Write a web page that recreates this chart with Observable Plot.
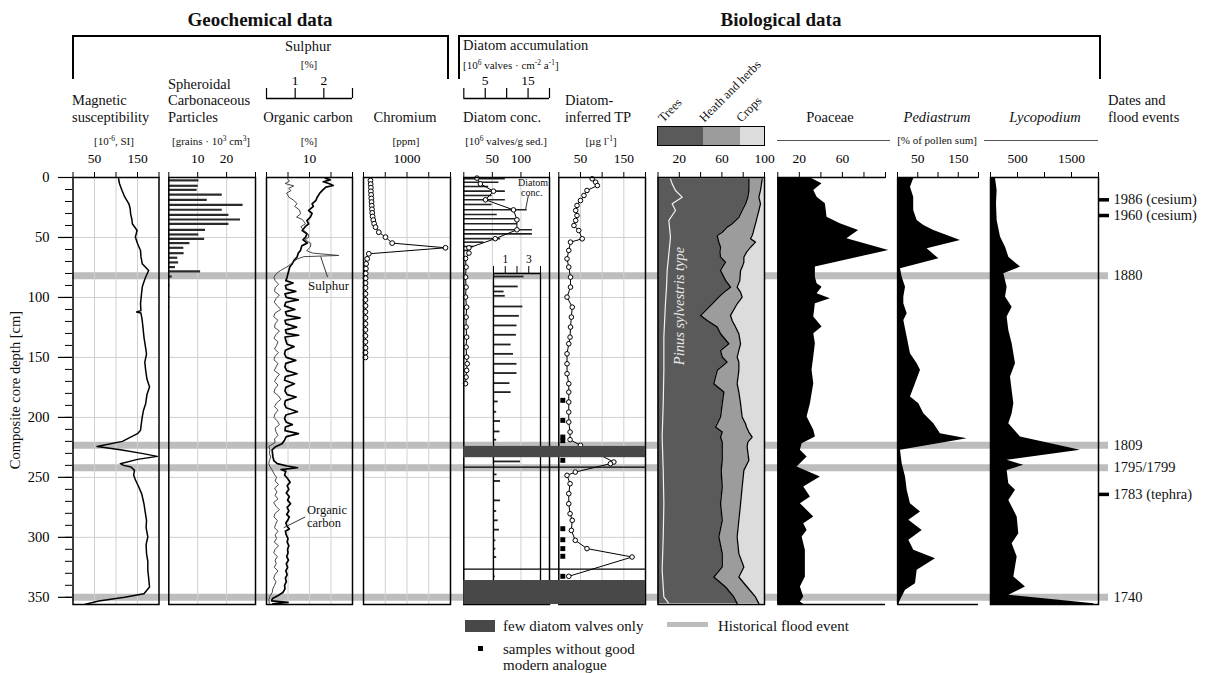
<!DOCTYPE html>
<html><head><meta charset="utf-8"><title>Geochemical and biological data</title>
<script src="https://cdn.jsdelivr.net/npm/d3@7"></script>
<script src="https://cdn.jsdelivr.net/npm/@observablehq/plot@0.6"></script>
<style>
html,body{margin:0;padding:0;background:#fff;overflow:hidden;}
#root{position:relative;width:1213px;height:673px;font-family:"Liberation Serif","Times New Roman",serif;color:#111;}
#root svg{position:absolute;left:0;top:0;}
#root svg text{font-family:"Liberation Serif","Times New Roman",serif !important;}
.t{position:absolute;white-space:nowrap;line-height:1;}
.t sup{font-size:0.68em;vertical-align:0.45em;line-height:0;}
.box{position:absolute;box-sizing:border-box;}
</style></head><body><div id="root"></div>
<script>
// ---------------- DATA ----------------
// Depth axis
const majorTicks = [0, 50, 100, 150, 200, 250, 300, 350];
const minorTicks = [0,10,20,30,40,50,60,70,80,90,100,110,120,130,140,150,160,170,180,190,200,210,220,230,240,250,260,270,280,290,300,310,320,330,340,350];

// Dates and flood events
const floodDepth = [82, 223.3, 242, 350];
const dateTickDepth = [18.6, 31.7, 264.2];
const dateLabels = ["1986 (cesium)", "1960 (cesium)", "1880", "1809", "1795/1799", "1783 (tephra)", "1740"];
const dateLabelDepth = [18.6, 31.7, 82, 223.3, 242, 264.2, 350];

// Magnetic susceptibility [10^-6 SI]
const magTicks = [0, 50, 100, 150, 200], magTickLabels = [50, 150];
const magDepth = [1,5,10.8,16,21.9,26,30.3,35,38.6,44.2,49.7,55,60.8,66,71.9,77.5,83,88,91.4,98,105.3,111,112.2,113,119.2,126,133,140,147,154,160.8,168,174.7,181,188.6,194,199.7,205,210.8,213.6,216.4,220,224.2,227,230,232.5,235,238.6,240,241.4,244.2,248,252,258,264,272,279,285.8,292,299.7,306,313.6,320,327.5,334,341.4,347,350,353,355.8];
const magValue = [106,108,114,120,130,133,134,137,138,149,145,150,157,158,161,176,169,164,161,159,157,158,148,158,161,163,165,168,171,167,169,172,178,172,169,164,161,159,157,150,134,115,56,110,160,196,150,110,118,135,143,141,145,153,160,165,168,171,170,174,170,171,174,174,176,178,165,120,60,29];

// Spheroidal carbonaceous particles [grains 10^3 cm^3]
const scpTicks = [0, 10, 20, 30], scpTickLabels = [10, 20];
const scpDepth = [2.4,6.9,10.3,14.2,18.6,22.8,26.9,31.1,35,38.6,43.6,47.5,51.1,54.7,58.6,63.1,66.9,70.8,74.7,78.3,82.5,90,99.7,108];
const scpValue = [10.4,10.2,9.8,18.5,13.3,25.7,18.5,20.8,24.8,20.8,12.7,10.4,12.4,7.3,5.2,5.3,3.1,3.4,2.3,11,1.2,0.4,0.4,0.3];

// Organic carbon [%]
const ocTicks = [0, 5, 10, 15, 20], ocTickLabels = [10];
const ocDepth = [0.5,2,3.5,5,6.7,8,10.8,13,16.4,19,21.9,24,27.5,30,33.1,36,38.6,41,44.2,47,49.7,52,54.7,57,60.8,63,66.4,69,71.9,74.7,77.5,80,83.1,86,88,90,93,95,97,100,102,104,107,110,112,115,117,119,122,124.7,127,130,131.5,133,136,139,141,144,147,150,152.5,155,158,161,163.6,166,169,172,175,178,181,183,186,189,192,195.3,198,201,204,206,208,211,213.6,216,219,222,224.7,227,230,233,236,238.6,240.5,242,243.5,245,248,251,254,257,260,263,266,269,272,275,278,281,283,286,288,291,293,295,298,301,304,307,310,313,316,319,322,325,328,331,334,337,340,343,346,349,351,353,354.3,355.5];
const ocValue = [13.7,14.8,13.2,14.5,15.5,13.8,13,12.4,11.8,11.5,10.6,10.9,9.8,10.6,10.2,9.4,9.8,9,8.3,9.4,9.1,8.5,9.5,8.2,7.9,7.4,7.1,6.4,6,5.4,5.2,5.0,4.8,4.5,6.2,4.4,4.6,6.8,4.3,4.6,7.4,4.5,4.2,6.6,4.4,4.7,7.8,4.3,4.5,7.0,4.4,4.6,7.5,4.3,4.5,4.8,6.4,4.4,4.2,4.6,6.8,4.5,4.3,4.7,7.1,4.4,4.2,6.5,4.5,4.3,4.8,6.9,4.4,4.2,4.6,7.2,4.5,4.2,4.6,6.0,4.4,4.3,7.4,4.6,4.2,3.6,2.0,1.3,1.4,1.5,1.7,2.5,4.8,7.2,3.4,4.5,4.2,4.9,5.5,4.8,5.2,4.6,5.3,4.9,5.6,4.8,5.2,4.7,5.3,4.9,4.5,4.8,5.3,4.4,4.6,5.0,4.8,5.2,4.9,5.0,4.7,5.1,4.6,4.9,4.5,4.8,4.4,4.6,4.2,4.3,3.8,2.5,1.4,1.2,5,1.5];

// Sulphur [%]
const sTicks = [0, 1, 2, 3], sTickLabels = [1, 2];
const sDepth = [0.5,3,5,7,9,11,13,16.4,19,21.9,24,27,30.3,33,35,38.6,41,44.2,47,49.7,52,55,58,61,63,65,66,68,71,74,77.5,80,83.1,86,89,92,95,98,101,104,107,110,113,116,119,122,125,128,131,134,137,140,143,146,149,152,155,158,161,164,167,170,173,176,179,182,185,188,191,194,197,200,203,206,209,212,215,218,221,224.2,227,230,233,236,238.6,241,244,247,250,253,256,259,262,265,268,271,274,277,280,283,286,289,292,295,298,301,304,307,310,313,316,319,322,325,328,331,334,337,340,343,346,349,352,355];
const sValue = [0.72,0.8,0.65,0.95,0.78,0.85,0.7,0.78,0.95,1.07,0.98,1.15,1.19,1.05,1.25,1.36,1.2,1.3,1.45,1.48,1.35,1.55,1.53,1.4,1.6,2.52,1.3,1.07,0.9,0.75,0.49,0.35,0.26,0.3,0.42,0.3,0.28,0.45,0.33,0.27,0.38,0.5,0.3,0.25,0.4,0.3,0.28,0.45,0.33,0.26,0.4,0.35,0.28,0.42,0.3,0.26,0.4,0.33,0.27,0.45,0.35,0.28,0.4,0.3,0.26,0.42,0.5,0.35,0.28,0.4,0.3,0.26,0.38,0.45,0.3,0.33,0.4,0.28,0.3,0.08,0.12,0.1,0.15,0.1,0.08,0.12,0.2,0.26,0.35,0.3,0.42,0.28,0.36,0.3,0.4,0.25,0.33,0.45,0.3,0.26,0.38,0.32,0.28,0.4,0.3,0.35,0.27,0.42,0.3,0.25,0.38,0.3,0.34,0.27,0.4,0.3,0.25,0.33,0.28,0.22,0.2,0.12,0.08,0.1];

// Chromium [ppm]
const crTicks = [0, 500, 1000, 1500, 2000], crTickLabels = [1000];
const crDepth = [2.5,5.5,8.5,11.5,14.5,17.5,20.5,23.5,26.5,29.5,32.5,35.5,38.5,41.4,45.6,49.7,54.7,58.6,63.6,67.8,72,76,80,84,88,92,97,102,107,112,117,122,127,132,137,142,146,150];
const crValue = [160,165,170,170,175,180,185,190,195,200,210,225,245,276,352,506,659,1885,122,84,60,55,50,48,47,46,46,45,46,45,45,46,45,44,45,46,45,45];

// Diatom concentration [10^6 valves/g sed.]
const dcTicks = [0, 50, 100, 150], dcTickLabels = [50, 100];
const dcDepth = [0.5,5.3,11.4,18.6,27,35.3,43.6,51,58.6,63,67.5,74.7,83.1,91.4,99.7,108.1,116.4,124.7,133.1,141.4,149.7,155.3,160.8,166.4,171.9];
const dcValue = [23,29,52,38,87,93,93,55,9,9,3,4,3,4,3,5,4,4,5,4,5,6,5,4,3];

// Diatom accumulation [10^6 valves cm^-2 a^-1], scale 0-20 (upper part)
const daTicks = [0, 5, 10, 15, 20], daTickLabels = [5, 15];
const daDepth = [1,3.9,7.5,11.4,15,18.6,22.5,26.9,30.8,34.4,38.6,43.6,47,51.1,53.9,57.5,60.8];
const daValue = [9.7,8.2,5.8,9.7,6.6,9.7,6.6,14.8,7.8,12.5,12.5,16,16,8.6,4.7,2.3,1.1];

// Diatom accumulation, enlarged scale 0-4 (lower part)
const iaTicks = [0, 1, 2, 3, 4], iaTickLabels = [1, 3];
const iaDepth = [82.5,90.8,95,98.6,107.5,115.3,123.3,131.1,139.2,147,155.3,163,171.4,178.9,186.7,195.3,203,211.7,218.6,236.7,247.5,253,269.2,278,285.8,293.6,302.5,309.4,316.4,332.5];
const iaValue = [2.6,2.1,0.9,1.0,2.5,2.2,2.0,1.95,1.5,1.7,2.0,2.0,1.4,1.5,0.4,0.27,0.6,0.55,0.27,2.3,0.3,0.6,0.6,0.27,0.4,0.5,0.2,0.2,0.27,0.15];

// Few diatom valves only (depth ranges) and section lines
const fewTop = [224.2, 336], fewBottom = [233.6, 356];
const sectionLines = [241.5, 326.5];

// Diatom-inferred TP [ug/l]
const tpTicks = [0, 50, 100, 150, 200], tpTickLabels = [50, 150];
const tpDepth = [1.1,3.9,6.7,10.8,15,19.2,23.3,27.5,31.7,35.8,40,44.2,51.1,53.9,60.8,67.8,74.7,83.1,91.4,99.7,108.1,116.4,124.7,133.1,138.6,147,155.3,163.6,171.9,178.9,187.2,195.6,203.9,212.2,218.6,223.3,237.2,238.6,245.6,248.3,255.3,263.6,272,280.3,285.8,294.2,302.5,309.4,316.4,332.5];
const tpValue = [77,85,89,65,58,50,42,39,42,39,35,46,54,27,23,19,23,27,27,19,31,29,27,26,23,19,19,19,23,23,23,23,23,26,26,50,127,119,38,19,26,23,23,26,31,29,38,65,169,23];
const noAnalogueDepth = [185.8, 202.5, 216.4, 219.4, 235.8, 292.8, 302, 309.4, 315.8, 332.5];

// Pollen groups [% of pollen sum]
const pgTicks = [0, 20, 40, 60, 80, 100], pgTickLabels = [20, 60, 100];
const pollenDepth = [1.1,6.7,10.8,16.4,21.9,27.5,33.1,38.6,41.4,45.6,48.3,51.1,53.9,58.1,62.2,66.4,70.6,74.7,77.5,85.8,91.4,95.6,99.7,105.3,115,119.2,124.7,130.3,138.6,144.2,149.7,153.9,160.8,171.9,178.9,188.6,199.7,205.3,208,212.2,216.4,220.6,224.7,235.8,244.2,258,272,285.8,299.7,313.6,324.7,333.1,341.4,349.7,355.3];
const trees = [85.3,85.3,85.3,84.3,82.2,79,75.9,69.6,64.9,60.3,55.6,56.2,57.1,58.7,58.1,58.7,63.4,60.3,58.7,63.4,68.1,61.8,57.1,50.9,39.9,46.2,55.6,58.7,66.5,58.7,60.3,64.9,55.6,52.4,61.8,60.3,58.7,55.6,54,60.3,58.7,60.3,60.3,60.3,59.3,60.3,58.7,60.3,57.1,60.3,60.3,52.4,63.4,71.2,74.3];
const heath = [12.5,11.6,10.9,10.4,14,15.7,17.2,21.9,25.7,29.1,32.8,30.7,34.4,28.2,25,21.9,17.2,18.7,18.8,13.4,6.2,15.7,21.9,23.4,28.2,23.4,17.2,17.2,11,17.2,14,11,20.3,21.9,14.1,17.2,20.3,26.6,29.1,25,29.7,24,23.4,25,21.3,18.7,18.8,15.6,17.2,15.6,20.3,23.5,20.3,20.3,20.4];
const crops = [2.2,3.1,3.8,5.3,3.8,5.3,6.9,8.5,9.4,10.6,11.6,13.1,8.5,13.1,16.9,19.4,19.4,21,22.5,23.2,25.7,22.5,21,25.7,31.9,30.4,27.2,24.1,22.5,24.1,25.7,24.1,24.1,25.7,24.1,22.5,21,17.8,16.9,14.7,11.6,15.7,16.3,14.7,19.4,21,22.5,24.1,25.7,24.1,19.4,24.1,16.3,8.5,5.3];
const pinusDepth = [1.1,5.3,10.8,16.4,21.9,27.5,35.8,49.7,63.6,77.5,91.4,105.3,133.1,160.8,188.6,216.4,244.2,272,299.7,327.5,349.7,355.3];
const pinusValue = [11.7,13.3,16.4,22.7,13.3,16.4,10.2,11.7,10.2,8.6,8,7,5.5,5.5,4.9,3.9,4.9,5.5,4.9,3.9,5.5,10.2];

// Poaceae [%]
const poTicks = [0, 20, 40, 60, 80, 100], poTickLabels = [20, 60];
const poDepth = [0,1.1,5.3,10.8,16.4,21.9,33.1,38.6,44.2,51.1,60.8,74.7,83.1,88.6,91.4,97,101.1,105.3,116.4,124.7,130.3,138.6,149.7,160.8,171.9,188.6,199.7,210.8,216.4,221.9,227.5,233.1,241.4,249.7,258,266.4,272,283,288.6,294.2,299.7,310.8,321.9,333.1,341.4,349.7,353.9,356];
const poValue = [32,31.8,41,33.4,36.5,44.2,45.7,58,75,64.2,103,34.9,34.9,36.5,41.1,36.5,48.8,34.9,33.4,41.1,33.4,34.9,33.4,31.8,33.4,30.3,27.2,33.4,34.9,22.6,21,27.2,17.9,39.5,24.1,30.3,21,33.4,24.1,27.2,22.6,25.6,25.6,25.6,21,24.1,21,24.1];

// Pediastrum [%]
const peTicks = [0, 50, 100, 150, 200], peTickLabels = [50, 150];
const peDepth = [0,1.1,8.1,16.4,27.5,35.8,40,44.2,52.5,59.4,67.8,76.1,83.1,91.4,99.7,105.3,113.6,119.2,133.1,147,155.3,160.8,171.9,183,188.6,197,205.3,213.6,217.8,227.5,238.6,249.7,260.8,272,278.9,285.8,294.2,302.5,310.8,317.8,327.5,338.6,344.2,352.5,356];
const peValue = [40,40,32,40,40,48.6,65,89.7,155.5,73.2,102,7.4,11.5,19.8,15.6,15.6,23.9,15.6,23.9,32,48.6,56.8,44.4,32,52.7,65,89.7,106,172,7.4,11.5,19.8,23.9,32,56.8,28,61,28,40.3,93.8,48.6,44.4,19.8,7.4,3.3];

// Lycopodium [%]
const lyTicks = [0, 500, 1000, 1500, 2000], lyTickLabels = [500, 1500];
const lyDepth = [0,1.1,10.8,21.9,35.8,49.7,58.1,66.4,74.7,80.3,91.4,99.7,108.1,116.4,127.5,138.6,155.3,166.4,177.5,188.6,197,205.3,216.4,227.5,235.8,240,244.2,255.3,260.8,269.2,283,297,305.3,316.4,324.7,333.1,341.4,348.3,355.3,356];
const lyValue = [93,93,123,111,123,185,278,339,555,247,308,278,401,308,339,401,463,370,401,432,401,339,555,1666,308,617,308,339,463,339,494,524,401,494,463,432,648,339,1913,1913];

// ---------------- DRAWING ----------------
const W = 1213, H = 673, TOP = 177, BOTTOM = 604, DMAX = 356;
const FONT = "Liberation Serif, Times New Roman, serif";
const GRID = "#d0d0d0";
const hGrid = [50, 100, 150, 200, 250, 300];
const root = document.getElementById("root");

const fmt = labels => d => labels.includes(d) ? String(d) : "";
const style = size => ({background: "transparent", fontFamily: FONT, fontSize: size + "px", color: "#000", overflow: "visible"});
const rows = (depths, values) => depths.map((d, i) => ({depth: d, value: values[i]}));
const topAxis = (ticks, labels, size = 6, pad = 9) => ({axis: "top", ticks, tickFormat: fmt(labels), tickSize: size, tickPadding: pad});
const grid = xs => [Plot.ruleX(xs, {stroke: GRID}), Plot.ruleY(hGrid, {stroke: GRID})];
const frame = () => Plot.frame({strokeWidth: 1.5});

function layer({L, R, domain = [0, 1], marks, top = TOP, ydomain = [0, DMAX], xaxis = null, yaxis = null, size = 13.5}) {
  const svg = Plot.plot({
    width: W, height: H,
    marginLeft: L, marginRight: W - R, marginTop: top, marginBottom: H - BOTTOM,
    style: style(size),
    x: Object.assign({domain, label: null}, xaxis || {axis: null}),
    y: Object.assign({domain: ydomain, reverse: true, label: null}, yaxis || {axis: null}),
    marks
  });
  root.appendChild(svg);
  return svg;
}
function ruler({L, R, domain, ticks, labels, yLine, tick = 10, size = 13.5}) {
  root.appendChild(Plot.plot({
    width: W, height: H, marginLeft: L, marginRight: W - R, marginTop: yLine - tick, marginBottom: H - yLine,
    style: style(size),
    x: {domain, axis: "top", ticks, tickFormat: fmt(labels), tickSize: 0, tickPadding: 4, label: null},
    y: {domain: [0, 1], axis: null},
    marks: [Plot.ruleX(ticks, {strokeWidth: 1.2}), Plot.ruleY([0], {strokeWidth: 1.5})]
  }));
}

// flood bands (background)
layer({L: 72, R: 1108, marks: [Plot.ruleY(floodDepth, {stroke: "#bdbdbd", strokeWidth: 7})]});

// depth axis
layer({L: 58, R: 72, size: 14.5, marks: [Plot.ruleY(majorTicks, {strokeWidth: 1.2})],
  yaxis: {axis: "left", ticks: majorTicks, tickSize: 0, tickPadding: 9, tickFormat: d => String(d)}});
layer({L: 65, R: 72, marks: [Plot.ruleY(minorTicks, {strokeWidth: 1})]});

// 1 Magnetic susceptibility
layer({L: 72.5, R: 158.5, domain: [0, 200], xaxis: topAxis(magTicks, magTickLabels), marks: [
  ...grid([50, 100, 150]),
  Plot.lineX(rows(magDepth, magValue), {x: "value", y: "depth", strokeWidth: 1.5}),
  frame()
]});

// 2 SCP
layer({L: 168.3, R: 255, domain: [0, 30], xaxis: topAxis(scpTicks, scpTickLabels), marks: [
  ...grid([10, 20]),
  Plot.ruleY(rows(scpDepth, scpValue), {y: "depth", x: "value", strokeWidth: 2.2, stroke: "#2a2a2a"}),
  frame()
]});

// 3 Organic carbon + sulphur
layer({L: 266, R: 352, domain: [0, 20], xaxis: topAxis(ocTicks, ocTickLabels), marks: [
  ...grid([5, 10, 15]),
  Plot.lineX(rows(ocDepth, ocValue), {x: "value", y: "depth", strokeWidth: 1.7}),
  Plot.link([{x1: 14.2, y1: 83, x2: 12.6, y2: 66}, {x1: 9.0, y1: 283, x2: 4.0, y2: 292}], {x1: "x1", y1: "y1", x2: "x2", y2: "y2", stroke: "#333", strokeWidth: 1}),
  frame()
]});
layer({L: 266, R: 352, domain: [0, 3], marks: [
  Plot.lineX(rows(sDepth, sValue), {x: "value", y: "depth", strokeWidth: 0.9, stroke: "#333"})
]});
ruler({L: 266, R: 352, domain: [0, 3], ticks: sTicks, labels: sTickLabels, yLine: 98});

// 4 Chromium
layer({L: 363, R: 450, domain: [0, 2000], xaxis: topAxis(crTicks, crTickLabels), marks: [
  ...grid([500, 1000, 1500]),
  Plot.lineX(rows(crDepth, crValue), {x: "value", y: "depth", strokeWidth: 1}),
  Plot.dot(rows(crDepth, crValue), {x: "value", y: "depth", r: 2.4, fill: "white", stroke: "black", strokeWidth: 1}),
  frame()
]});

// 5 Diatom conc. + accumulation
layer({L: 463.3, R: 549, domain: [0, 150], marks: grid([50, 100])});
layer({L: 463.3, R: 549, domain: [0, 20], marks: [
  Plot.ruleY(rows(daDepth, daValue), {y: "depth", x: "value", strokeWidth: 1.6, stroke: "#222"})
]});
ruler({L: 463.3, R: 549, domain: [0, 20], ticks: daTicks, labels: daTickLabels, yLine: 98});
layer({L: 493, R: 540, domain: [0, 4], top: 273, ydomain: [80, DMAX], size: 11.5,
  xaxis: topAxis(iaTicks, iaTickLabels, 8, 3), marks: [
  Plot.ruleY(rows(iaDepth, iaValue), {y: "depth", x: "value", strokeWidth: 1.8, stroke: "#222"}),
  Plot.ruleX([0, 4], {strokeWidth: 1.3}),
  Plot.ruleY([80], {strokeWidth: 1.3})
]});
layer({L: 463.3, R: 549, domain: [0, 150], xaxis: topAxis(dcTicks, dcTickLabels), marks: [
  Plot.lineX(rows(dcDepth, dcValue), {x: "value", y: "depth", strokeWidth: 1}),
  Plot.dot(rows(dcDepth, dcValue), {x: "value", y: "depth", r: 2.3, fill: "white", stroke: "black", strokeWidth: 1}),
  Plot.link([{x1: 113, y1: 15, x2: 108, y2: 27}], {x1: "x1", y1: "y1", x2: "x2", y2: "y2", stroke: "#333", strokeWidth: 1}),
  frame()
]});

// 6 Diatom-inferred TP
layer({L: 558.3, R: 645, domain: [0, 200], xaxis: topAxis(tpTicks, tpTickLabels), marks: [
  ...grid([50, 100, 150]),
  Plot.lineX(rows(tpDepth, tpValue), {x: "value", y: "depth", strokeWidth: 1}),
  Plot.dot(rows(tpDepth, tpValue), {x: "value", y: "depth", r: 2.3, fill: "white", stroke: "black", strokeWidth: 1}),
  Plot.dot(noAnalogueDepth, {y: d => d, frameAnchor: "left", dx: 4, symbol: "square", r: 2.8, fill: "black"}),
  frame()
]});

// few diatom valves blocks across both diatom panels
layer({L: 463.3, R: 645, marks: [
  Plot.rect(fewTop.map((t, i) => ({y1: t, y2: fewBottom[i]})), {y1: "y1", y2: "y2", fill: "#484848"}),
  Plot.ruleY(sectionLines, {strokeWidth: 1.4})
]});

// 7 Pollen groups
const pollenRows = pollenDepth.map((d, i) => ({depth: d, t: trees[i], th: trees[i] + heath[i], all: trees[i] + heath[i] + crops[i]}));
layer({L: 657.5, R: 764, domain: [0, 100], xaxis: topAxis(pgTicks, pgTickLabels), marks: [
  Plot.areaX(pollenRows, {y: "depth", x1: "th", x2: "all", fill: "#dcdcdc"}),
  Plot.areaX(pollenRows, {y: "depth", x1: "t", x2: "th", fill: "#9c9c9c"}),
  Plot.areaX(pollenRows, {y: "depth", x1: 0, x2: "t", fill: "#5a5a5a"}),
  Plot.lineX(pollenRows, {y: "depth", x: "t", strokeWidth: 1.3}),
  Plot.lineX(pollenRows, {y: "depth", x: "th", strokeWidth: 1.3}),
  Plot.lineX(rows(pinusDepth, pinusValue), {y: "depth", x: "value", stroke: "#f2f2f2", strokeWidth: 1.2}),
  frame()
]});

// 8 Poaceae
layer({L: 777.3, R: 885, domain: [0, 100], xaxis: topAxis(poTicks, poTickLabels), marks: [
  Plot.areaX(rows(poDepth, poValue), {y: "depth", x: "value", fill: "black"}),
  Plot.ruleY([0, DMAX], {strokeWidth: 1.3}),
  Plot.ruleX([0], {strokeWidth: 1.3})
]});

// 9 Pediastrum
layer({L: 897, R: 978, domain: [0, 200], xaxis: topAxis(peTicks, peTickLabels), marks: [
  Plot.areaX(rows(peDepth, peValue), {y: "depth", x: "value", fill: "black"}),
  Plot.ruleY([0, DMAX], {strokeWidth: 1.3}),
  Plot.ruleX([0], {strokeWidth: 1.3})
]});

// 10 Lycopodium
layer({L: 990, R: 1098, domain: [0, 2000], xaxis: topAxis(lyTicks, lyTickLabels), marks: [
  Plot.areaX(rows(lyDepth, lyValue), {y: "depth", x: "value", fill: "black"}),
  frame()
]});

// dates
layer({L: 1099, R: 1109, size: 14.5, marks: [
  Plot.ruleY(dateTickDepth, {strokeWidth: 3.5}),
  Plot.text(dateLabels.map((t, i) => ({t, d: dateLabelDepth[i]})), {y: "d", text: "t", frameAnchor: "right", dx: 4, textAnchor: "start", fill: "#111"})
]});

// ---------------- TEXT & DECORATION ----------------
function txt(html, x, y, o = {}) {
  const d = document.createElement("div");
  d.className = "t";
  d.innerHTML = html;
  const size = o.size || 14.5;
  d.style.fontSize = size + "px";
  if (o.weight) d.style.fontWeight = o.weight;
  if (o.italic) d.style.fontStyle = "italic";
  if (o.color) d.style.color = o.color;
  if (o.rot45) {
    d.style.left = x + "px"; d.style.top = (y - size) + "px";
    d.style.transformOrigin = "0% 100%";
    d.style.transform = "rotate(-45deg)";
  } else {
    const a = o.anchor || "left";
    const tx = a === "left" ? "0" : a === "center" ? "-50%" : "-100%";
    d.style.left = x + "px"; d.style.top = y + "px";
    d.style.transform = `translate(${tx}, -50%)` + (o.rot ? ` rotate(${o.rot}deg)` : "");
  }
  root.appendChild(d);
}
function box(x, y, w, h, css) {
  const d = document.createElement("div");
  d.className = "box";
  Object.assign(d.style, {left: x + "px", top: y + "px", width: w + "px", height: h + "px"}, css);
  root.appendChild(d);
  return d;
}

txt("Geochemical data", 260, 19, {anchor: "center", size: 19, weight: "bold"});
txt("Biological data", 781, 19, {anchor: "center", size: 19, weight: "bold"});
box(72, 35, 377, 44, {borderTop: "2px solid #000", borderLeft: "2px solid #000", borderRight: "2px solid #000"});
box(458, 35, 643, 44, {borderTop: "2px solid #000", borderLeft: "2px solid #000", borderRight: "2px solid #000"});

txt("Sulphur", 308, 46, {anchor: "center"});
txt("[%]", 309, 64, {anchor: "center", size: 11});
txt("Magnetic", 72, 100); txt("susceptibility", 72, 117);
txt("[10<sup>-6</sup>, SI]", 114, 141, {anchor: "center", size: 11});
txt("Spheroidal", 168, 84); txt("Carbonaceous", 168, 100); txt("Particles", 168, 117);
txt("[grains · 10<sup>3</sup> cm<sup>3</sup>]", 211, 141, {anchor: "center", size: 11});
txt("Organic carbon", 308, 117, {anchor: "center"});
txt("[%]", 309, 141, {anchor: "center", size: 11});
txt("Chromium", 405, 117, {anchor: "center"});
txt("[ppm]", 406, 141, {anchor: "center", size: 11});
txt("Diatom accumulation", 463, 45);
txt("[10<sup>6</sup> valves · cm<sup>-2</sup> a<sup>-1</sup>]", 463, 65, {size: 11});
txt("Diatom conc.", 463, 117);
txt("[10<sup>6</sup> valves/g sed.]", 506, 141, {anchor: "center", size: 11});
txt("Diatom-", 565, 100); txt("inferred TP", 565, 117);
txt("[µg l<sup>-1</sup>]", 601, 141, {anchor: "center", size: 11});

// pollen group legend
txt("Trees", 665, 124, {rot45: true, size: 12.5});
txt("Heath and herbs", 706, 124, {rot45: true, size: 12.5});
txt("Crops", 743, 124, {rot45: true, size: 12.5});
box(657, 126, 46, 19, {background: "#5a5a5a"});
box(703, 126, 37, 19, {background: "#9c9c9c"});
box(740, 126, 25, 19, {background: "#dcdcdc"});
box(657, 126, 108, 20, {border: "1.5px solid #000"});

txt("Poaceae", 830, 117, {anchor: "center"});
txt("Pediastrum", 937, 117, {anchor: "center", italic: true});
txt("Lycopodium", 1045, 117, {anchor: "center", italic: true});
txt("[% of pollen sum]", 937, 140, {anchor: "center", size: 11});
box(777, 140, 113, 1, {background: "#555"});
box(984, 140, 114, 1, {background: "#555"});
txt("Dates and", 1108, 100); txt("flood events", 1108, 117);

txt("Composite core depth [cm]", 15, 390, {anchor: "center", rot: -90});
txt("Pinus sylvestris type", 679, 306, {anchor: "center", rot: -90, italic: true, color: "#e8e8e8"});

// in-panel annotations
txt("Sulphur", 308, 285, {size: 13});
txt("Organic", 307, 510, {size: 12.5}); txt("carbon", 307, 523, {size: 12.5});
txt("Diatom", 518, 183, {size: 10}); txt("conc.", 521, 193, {size: 10});

// bottom legend
box(465, 620, 30, 12, {background: "#484848"});
txt("few diatom valves only", 503, 626, {size: 15});
box(667, 622, 41, 5, {background: "#bdbdbd"});
txt("Historical flood event", 718, 626, {size: 15});
box(478, 646, 5, 5, {background: "#000"});
txt("samples without good", 503, 649, {size: 15});
txt("modern analogue", 503, 665, {size: 15});
</script></body></html>
